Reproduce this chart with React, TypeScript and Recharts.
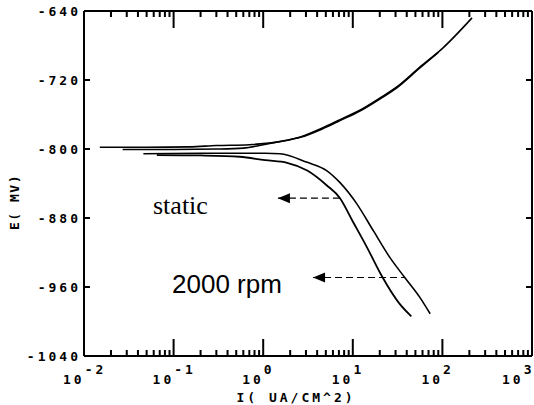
import { LineChart, Line, XAxis, YAxis } from 'recharts';

// current density (uA/cm^2) on log axis, potential (mV)
const decades = [0.01, 0.1, 1, 10, 100, 1000];
const minorSteps = [2, 3, 4, 5, 6, 7, 8, 9];
const xTicks = [
  ...decades,
  ...decades.slice(0, -1).flatMap(d => minorSteps.map(m => +(d * m).toPrecision(3)))
];
const yTicks = [-1040, -960, -880, -800, -720, -640];

const staticAnodic = [
  { I: 0.015, E: -798 }, { I: 0.05, E: -798 }, { I: 0.15, E: -797.5 },
  { I: 0.3, E: -796 }, { I: 0.7, E: -795 }, { I: 1.4, E: -792 },
  { I: 2.6, E: -786 }, { I: 4.5, E: -776 }, { I: 7.2, E: -766 },
  { I: 12, E: -755 }, { I: 20, E: -741 }, { I: 31, E: -728 },
  { I: 56, E: -705 }, { I: 101, E: -683 }, { I: 214, E: -648 }
];

const rpmAnodic = [
  { I: 0.027, E: -800.5 }, { I: 0.1, E: -800.5 }, { I: 0.3, E: -800 },
  { I: 0.6, E: -799 }, { I: 1.0, E: -795 }, { I: 1.6, E: -791 },
  { I: 2.6, E: -786.5 }, { I: 4.5, E: -777 }, { I: 7.2, E: -767 },
  { I: 12, E: -756 }, { I: 20, E: -742 }, { I: 31, E: -729 },
  { I: 56, E: -706 }, { I: 90, E: -688 }
];

const staticCathodic = [
  { I: 0.065, E: -807 }, { I: 0.2, E: -807.5 }, { I: 0.55, E: -809 },
  { I: 1.05, E: -813 }, { I: 1.85, E: -816 }, { I: 3.1, E: -825 },
  { I: 5.1, E: -842 }, { I: 7.2, E: -857 }, { I: 10, E: -884 },
  { I: 14.4, E: -914 }, { I: 21, E: -947 }, { I: 33, E: -979 },
  { I: 45, E: -994 }
];

const rpmCathodic = [
  { I: 0.046, E: -805.5 }, { I: 0.2, E: -805 }, { I: 0.55, E: -805 },
  { I: 1.05, E: -805 }, { I: 1.54, E: -805.5 }, { I: 3.1, E: -815.5 },
  { I: 5.1, E: -825 }, { I: 7.2, E: -839 }, { I: 11, E: -863 },
  { I: 17, E: -895 }, { I: 26, E: -926 }, { I: 38, E: -949 },
  { I: 56, E: -972 }, { I: 73, E: -991 }
];

const staticArrow = [{ I: 1.46, E: -857 }, { I: 7.2, E: -857 }];
const rpmArrow = [{ I: 3.6, E: -949 }, { I: 38, E: -949 }];

// tick mark lengths, converted from pixels to axis units
const mvPerPx = 400 / 345;
const decPerPx = 5 / 448;
const majorLen = 17;
const minorLen = 6;
const yTickLen = 6;

const isDecade = (v: number) => Math.abs(Math.log10(v) - Math.round(Math.log10(v))) < 1e-6;

// inner tick marks drawn as broken line series (null breaks the path)
const innerX = xTicks.filter(v => v > 0.01 && v < 1000);
const bottomMarks = innerX.flatMap(v => {
  const len = (isDecade(v) ? majorLen : minorLen) * mvPerPx;
  return [{ I: v, E: -1040 }, { I: v, E: -1040 + len }, { I: v, E: null }];
});
const topMarks = innerX.flatMap(v => {
  const len = (isDecade(v) ? majorLen : minorLen) * mvPerPx;
  return [{ I: v, E: -640 }, { I: v, E: -640 - len }, { I: v, E: null }];
});
const yStep = Math.pow(10, yTickLen * decPerPx);
const leftMarks = yTicks.slice(1, -1).flatMap(v => [
  { I: 0.01, E: v }, { I: 0.01 * yStep, E: v }, { I: 0.01 * yStep, E: null }
]);
const rightMarks = yTicks.slice(1, -1).flatMap(v => [
  { I: 1000 / yStep, E: v }, { I: 1000, E: v }, { I: 1000, E: null }
]);

const tickFont = {
  fontFamily: '"DejaVu Sans Mono", monospace',
  fontWeight: 'bold' as const,
  fontSize: 13,
  letterSpacing: 3,
  fill: '#000'
};

function BottomTick({ x, y, payload }: any) {
  const v = payload.value;
  if (!isDecade(v)) return <g />;
  const exp = Math.round(Math.log10(v));
  const start = exp === 3 ? x - 30 : x - 21;
  return (
    <text x={start} y={y + 28} {...tickFont}>
      10<tspan dy={-10}>{exp}</tspan>
    </text>
  );
}

function LeftTick({ x, y, payload }: any) {
  return (
    <text x={x - 3} y={y} dy="0.36em" textAnchor="end" {...tickFont}>{payload.value}</text>
  );
}

function ArrowHead(props: any) {
  const { cx, cy, index } = props;
  if (index !== 0) return <g key={`a${index}`} />;
  return (
    <polygon
      key={`a${index}`}
      points={`${cx},${cy} ${cx + 12},${cy - 5} ${cx + 12},${cy + 5}`}
      fill="#000"
    />
  );
}

const frame = { stroke: '#000', strokeWidth: 2 };
const markProps = {
  xAxisId: 'b',
  yAxisId: 'l',
  dataKey: 'E',
  type: 'linear' as const,
  stroke: '#000',
  strokeWidth: 2,
  dot: false,
  activeDot: false,
  connectNulls: false,
  isAnimationActive: false
};

export default function App() {
  return (
    <div style={{ position: 'absolute', left: 0, top: 0, width: 534, height: 405, background: '#fff' }}>
      <LineChart width={534} height={405} margin={{ top: 0, right: 0, bottom: 0, left: 0 }}>
        <XAxis
          xAxisId="b"
          dataKey="I"
          type="number"
          scale="log"
          domain={[0.01, 1000]}
          allowDataOverflow
          ticks={xTicks}
          interval={0}
          height={49}
          tickSize={0}
          tickMargin={0}
          tickLine={false}
          axisLine={frame}
          tick={<BottomTick />}
        />
        <XAxis
          xAxisId="t"
          orientation="top"
          dataKey="I"
          type="number"
          scale="log"
          domain={[0.01, 1000]}
          allowDataOverflow
          height={11}
          tick={false}
          tickLine={false}
          axisLine={frame}
        />
        <YAxis
          yAxisId="l"
          type="number"
          domain={[-1040, -640]}
          allowDataOverflow
          ticks={yTicks}
          interval={0}
          width={84}
          tickSize={0}
          tickMargin={0}
          tickLine={false}
          axisLine={frame}
          tick={<LeftTick />}
        />
        <YAxis
          yAxisId="r"
          orientation="right"
          type="number"
          domain={[-1040, -640]}
          allowDataOverflow
          width={2}
          tick={false}
          tickLine={false}
          axisLine={frame}
        />
        <Line {...markProps} data={bottomMarks} />
        <Line {...markProps} data={topMarks} />
        <Line {...markProps} data={leftMarks} />
        <Line {...markProps} data={rightMarks} />
        <Line xAxisId="b" yAxisId="l" data={staticAnodic} dataKey="E" type="monotone" stroke="#000" strokeWidth={1.6} dot={false} activeDot={false} isAnimationActive={false} />
        <Line xAxisId="t" yAxisId="r" data={rpmAnodic} dataKey="E" type="monotone" stroke="#000" strokeWidth={1.6} dot={false} activeDot={false} isAnimationActive={false} />
        <Line xAxisId="b" yAxisId="l" data={staticCathodic} dataKey="E" type="monotone" stroke="#000" strokeWidth={1.8} dot={false} activeDot={false} isAnimationActive={false} />
        <Line xAxisId="t" yAxisId="r" data={rpmCathodic} dataKey="E" type="monotone" stroke="#000" strokeWidth={1.6} dot={false} activeDot={false} isAnimationActive={false} />
        <Line xAxisId="b" yAxisId="l" data={staticArrow} dataKey="E" type="linear" stroke="#000" strokeWidth={1.2} strokeDasharray="7 4" dot={ArrowHead} activeDot={false} isAnimationActive={false} />
        <Line xAxisId="t" yAxisId="r" data={rpmArrow} dataKey="E" type="linear" stroke="#000" strokeWidth={1.2} strokeDasharray="7 4" dot={ArrowHead} activeDot={false} isAnimationActive={false} />
      </LineChart>
      <svg width={534} height={405} style={{ position: 'absolute', left: 0, top: 0, pointerEvents: 'none' }}>
        <text x={153} y={214} fontFamily='"Liberation Serif", serif' fontSize={26} fill="#000">static</text>
        <text x={172} y={293} fontFamily='"Liberation Sans", sans-serif' fontSize={26} fill="#000">2000 rpm</text>
        <text x={296} y={402} textAnchor="middle" {...tickFont}>I( UA/CM^2)</text>
        <text x={19} y={202} textAnchor="middle" transform="rotate(-90 19 202)" {...tickFont} letterSpacing={1.5}>E( MV)</text>
      </svg>
    </div>
  );
}
